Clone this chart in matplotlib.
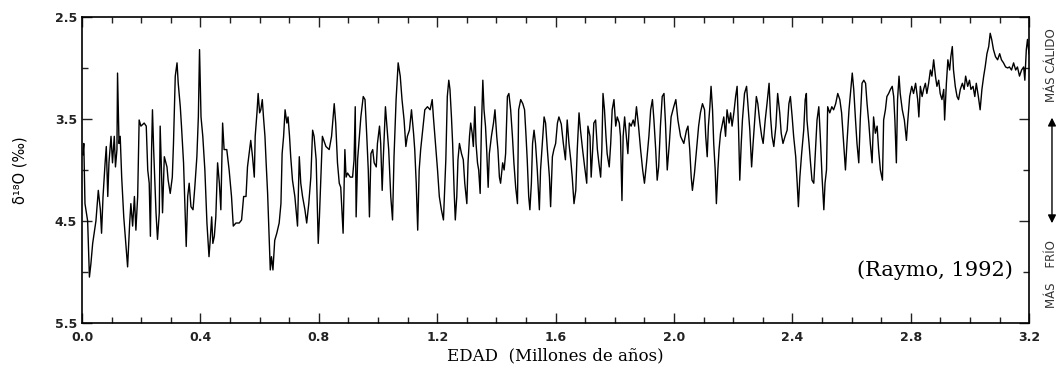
# Raymo (1992) benthic d18O record, 0 - 3.2 Ma

import matplotlib.pyplot as plt
from matplotlib.ticker import MultipleLocator

# age in Ma at the turning points of the curve
age = [0.003, 0.006, 0.010, 0.019, 0.025, 0.030, 0.036, 0.047, 0.055, 0.062,
       0.066, 0.071, 0.078, 0.082, 0.087, 0.091, 0.098, 0.103, 0.109, 0.113,
       0.118, 0.120, 0.125, 0.129, 0.134, 0.141, 0.154, 0.161, 0.165, 0.171,
       0.177, 0.182, 0.188, 0.193, 0.199, 0.210, 0.217, 0.222, 0.227, 0.231,
       0.235, 0.238, 0.242, 0.250, 0.255, 0.261, 0.264, 0.269, 0.272, 0.278,
       0.287, 0.291, 0.298, 0.305, 0.309, 0.315, 0.321, 0.325, 0.332, 0.336,
       0.343, 0.348, 0.352, 0.357, 0.362, 0.368, 0.375, 0.381, 0.388, 0.393,
       0.397, 0.402, 0.408, 0.415, 0.422, 0.429, 0.433, 0.438, 0.442, 0.447,
       0.452, 0.458, 0.464, 0.469, 0.475, 0.480, 0.489, 0.497, 0.505, 0.511,
       0.520, 0.531, 0.539, 0.546, 0.554, 0.559, 0.566, 0.570, 0.576, 0.582,
       0.585, 0.591, 0.595, 0.600, 0.604, 0.609, 0.613, 0.618, 0.622, 0.627,
       0.631, 0.636, 0.640, 0.645, 0.651, 0.658, 0.666, 0.672, 0.676, 0.681,
       0.686, 0.692, 0.696, 0.701, 0.705, 0.711, 0.719, 0.728, 0.734, 0.739,
       0.745, 0.753, 0.759, 0.766, 0.773, 0.779, 0.784, 0.791, 0.798, 0.802,
       0.812, 0.824, 0.835, 0.843, 0.852, 0.857, 0.863, 0.869, 0.874, 0.882,
       0.888, 0.892, 0.897, 0.906, 0.914, 0.919, 0.923, 0.926, 0.931, 0.936,
       0.942, 0.950, 0.956, 0.962, 0.967, 0.971, 0.976, 0.982, 0.987, 0.994,
       0.998, 1.005, 1.009, 1.014, 1.018, 1.025, 1.030, 1.036, 1.043, 1.049,
       1.054, 1.061, 1.068, 1.075, 1.081, 1.088, 1.094, 1.099, 1.106, 1.113,
       1.120, 1.124, 1.129, 1.134, 1.139, 1.144, 1.151, 1.158, 1.167, 1.176,
       1.183, 1.187, 1.195, 1.201, 1.207, 1.214, 1.221, 1.229, 1.234, 1.239,
       1.243, 1.248, 1.252, 1.257, 1.261, 1.266, 1.270, 1.275, 1.282, 1.288,
       1.293, 1.300, 1.304, 1.309, 1.313, 1.318, 1.322, 1.327, 1.331, 1.336,
       1.340, 1.345, 1.349, 1.354, 1.358, 1.363, 1.367, 1.372, 1.376, 1.383,
       1.390, 1.395, 1.401, 1.405, 1.410, 1.414, 1.421, 1.426, 1.431, 1.437,
       1.442, 1.448, 1.454, 1.459, 1.465, 1.471, 1.475, 1.482, 1.489, 1.495,
       1.500, 1.504, 1.509, 1.513, 1.518, 1.522, 1.527, 1.532, 1.538, 1.545,
       1.549, 1.555, 1.561, 1.566, 1.572, 1.579, 1.583, 1.589, 1.594, 1.600,
       1.606, 1.611, 1.619, 1.626, 1.633, 1.639, 1.645, 1.651, 1.656, 1.662,
       1.668, 1.673, 1.679, 1.684, 1.691, 1.698, 1.705, 1.709, 1.716, 1.720,
       1.725, 1.729, 1.735, 1.741, 1.746, 1.752, 1.756, 1.760, 1.765, 1.770,
       1.774, 1.781, 1.786, 1.791, 1.797, 1.803, 1.808, 1.815, 1.819, 1.824,
       1.828, 1.833, 1.839, 1.844, 1.849, 1.855, 1.862, 1.867, 1.873, 1.880,
       1.887, 1.894, 1.900, 1.907, 1.915, 1.921, 1.927, 1.932, 1.938, 1.943,
       1.948, 1.954, 1.960, 1.966, 1.971, 1.977, 1.984, 1.990, 1.999, 2.006,
       2.013, 2.022, 2.033, 2.042, 2.047, 2.053, 2.058, 2.062, 2.069, 2.076,
       2.083, 2.089, 2.096, 2.103, 2.107, 2.112, 2.116, 2.121, 2.125, 2.130,
       2.134, 2.139, 2.143, 2.148, 2.152, 2.157, 2.164, 2.168, 2.174, 2.179,
       2.186, 2.191, 2.196, 2.202, 2.208, 2.213, 2.218, 2.222, 2.227, 2.231,
       2.238, 2.245, 2.250, 2.256, 2.262, 2.267, 2.274, 2.278, 2.283, 2.290,
       2.296, 2.301, 2.308, 2.314, 2.321, 2.326, 2.331, 2.337, 2.344, 2.350,
       2.357, 2.362, 2.368, 2.375, 2.382, 2.388, 2.393, 2.399, 2.404, 2.411,
       2.416, 2.420, 2.425, 2.431, 2.438, 2.443, 2.447, 2.449, 2.456, 2.461,
       2.466, 2.472, 2.478, 2.483, 2.489, 2.494, 2.500, 2.506, 2.510, 2.515,
       2.519, 2.526, 2.533, 2.539, 2.546, 2.553, 2.560, 2.566, 2.573, 2.579,
       2.584, 2.591, 2.598, 2.602, 2.607, 2.613, 2.618, 2.624, 2.629, 2.635,
       2.641, 2.647, 2.652, 2.658, 2.663, 2.669, 2.674, 2.680, 2.686, 2.691,
       2.697, 2.704, 2.708, 2.714, 2.719, 2.725, 2.731, 2.737, 2.742, 2.746,
       2.751, 2.755, 2.760, 2.764, 2.771, 2.778, 2.785, 2.789, 2.796, 2.803,
       2.809, 2.816, 2.823, 2.827, 2.832, 2.838, 2.843, 2.849, 2.854, 2.860,
       2.866, 2.871, 2.877, 2.883, 2.888, 2.894, 2.899, 2.905, 2.911, 2.914,
       2.920, 2.925, 2.931, 2.935, 2.940, 2.944, 2.950, 2.956, 2.961, 2.967,
       2.974, 2.980, 2.985, 2.992, 2.998, 3.003, 3.010, 3.016, 3.021, 3.028,
       3.034, 3.040, 3.046, 3.051, 3.057, 3.063, 3.068, 3.073, 3.079, 3.086,
       3.093, 3.100, 3.106, 3.113, 3.120, 3.127, 3.133, 3.140, 3.147, 3.154,
       3.160, 3.167, 3.174, 3.181, 3.185, 3.190, 3.194, 3.199]

# d18O (per mil)
d18o = [3.85, 3.74, 4.33, 4.50, 5.05, 4.92, 4.72, 4.50, 4.20, 4.39,
        4.62, 4.26, 3.93, 3.77, 4.26, 3.93, 3.67, 3.93, 3.67, 3.97,
        3.80, 3.05, 3.74, 3.67, 4.07, 4.46, 4.95, 4.52, 4.33, 4.55,
        4.26, 4.59, 4.26, 3.51, 3.57, 3.54, 3.57, 4.00, 4.13, 4.65,
        3.80, 3.41, 3.80, 4.42, 4.68, 4.42, 3.57, 4.07, 4.42, 3.87,
        3.97, 4.10, 4.23, 4.07, 3.74, 3.08, 2.95, 3.15, 3.38, 3.57,
        3.93, 4.39, 4.75, 4.26, 4.13, 4.36, 4.39, 4.17, 3.87, 3.48,
        2.82, 3.48, 3.67, 4.00, 4.52, 4.85, 4.69, 4.46, 4.72, 4.65,
        4.46, 3.93, 4.13, 4.39, 3.54, 3.80, 3.80, 4.00, 4.26, 4.55,
        4.52, 4.52, 4.49, 4.26, 4.26, 3.97, 3.80, 3.71, 3.87, 4.07,
        3.67, 3.44, 3.25, 3.44, 3.41, 3.31, 3.48, 3.67, 3.93, 4.23,
        4.55, 4.98, 4.85, 4.98, 4.69, 4.62, 4.52, 4.33, 3.84, 3.67,
        3.41, 3.54, 3.48, 3.67, 3.87, 4.10, 4.26, 4.55, 3.87, 4.13,
        4.26, 4.39, 4.52, 4.33, 4.07, 3.61, 3.67, 3.90, 4.72, 4.46,
        3.67, 3.77, 3.80, 3.67, 3.35, 3.54, 3.93, 4.13, 4.17, 4.62,
        3.80, 4.07, 4.03, 4.07, 4.07, 3.90, 3.38, 4.46, 3.90, 3.71,
        3.48, 3.28, 3.31, 3.67, 4.00, 4.46, 3.84, 3.80, 3.93, 3.97,
        3.74, 3.57, 3.74, 4.20, 3.87, 3.38, 3.57, 3.80, 4.26, 4.49,
        3.87, 3.31, 2.95, 3.08, 3.31, 3.51, 3.77, 3.67, 3.61, 3.41,
        3.64, 3.80, 4.13, 4.59, 4.00, 3.80, 3.61, 3.41, 3.38, 3.41,
        3.31, 3.48, 3.77, 4.00, 4.26, 4.39, 4.49, 3.90, 3.28, 3.12,
        3.21, 3.48, 3.74, 4.20, 4.49, 4.26, 3.90, 3.74, 3.84, 3.90,
        4.13, 4.33, 3.93, 3.67, 3.54, 3.64, 3.77, 3.38, 3.74, 3.93,
        4.00, 4.23, 3.61, 3.12, 3.41, 3.57, 3.80, 4.17, 3.84, 3.67,
        3.54, 3.41, 3.67, 3.80, 4.07, 4.13, 3.93, 4.00, 3.84, 3.28,
        3.25, 3.41, 3.67, 3.93, 4.17, 4.33, 3.41, 3.31, 3.35, 3.41,
        3.67, 3.90, 4.26, 4.39, 4.13, 3.74, 3.61, 3.74, 4.00, 4.39,
        4.00, 3.74, 3.48, 3.54, 3.80, 4.07, 4.36, 3.87, 3.80, 3.74,
        3.54, 3.48, 3.55, 3.74, 3.90, 3.51, 3.74, 3.90, 4.07, 4.33,
        4.20, 3.80, 3.44, 3.61, 3.80, 3.97, 4.13, 3.57, 3.67, 4.07,
        3.80, 3.54, 3.51, 3.80, 3.93, 4.07, 3.80, 3.25, 3.41, 3.67,
        3.84, 3.97, 3.74, 3.41, 3.31, 3.57, 3.48, 3.54, 3.67, 4.30,
        3.67, 3.48, 3.67, 3.84, 3.54, 3.57, 3.51, 3.57, 3.38, 3.57,
        3.80, 4.00, 4.13, 3.93, 3.67, 3.41, 3.31, 3.51, 3.80, 4.10,
        3.97, 3.57, 3.28, 3.25, 3.54, 4.00, 3.74, 3.48, 3.38, 3.31,
        3.51, 3.67, 3.74, 3.61, 3.57, 3.80, 4.07, 4.20, 4.03, 3.80,
        3.57, 3.44, 3.35, 3.41, 3.67, 3.87, 3.57, 3.38, 3.18, 3.41,
        3.74, 4.00, 4.33, 4.00, 3.80, 3.64, 3.54, 3.48, 3.67, 3.41,
        3.54, 3.44, 3.57, 3.44, 3.28, 3.18, 3.61, 4.10, 3.74, 3.51,
        3.25, 3.18, 3.38, 3.61, 3.97, 3.74, 3.44, 3.28, 3.35, 3.54,
        3.67, 3.74, 3.51, 3.35, 3.15, 3.48, 3.67, 3.77, 3.57, 3.25,
        3.44, 3.64, 3.74, 3.67, 3.61, 3.35, 3.28, 3.48, 3.67, 3.87,
        4.13, 4.36, 4.07, 3.84, 3.61, 3.31, 3.25, 3.51, 3.74, 3.93,
        4.10, 4.13, 3.80, 3.51, 3.38, 3.67, 4.07, 4.39, 4.13, 4.00,
        3.38, 3.44, 3.38, 3.41, 3.35, 3.25, 3.31, 3.44, 3.74, 4.00,
        3.74, 3.41, 3.18, 3.05, 3.21, 3.51, 3.74, 3.93, 3.51, 3.15,
        3.12, 3.15, 3.35, 3.54, 3.74, 3.93, 3.48, 3.64, 3.57, 3.80,
        4.00, 4.10, 3.51, 3.41, 3.28, 3.25, 3.21, 3.18, 3.28, 3.51,
        3.93, 3.31, 3.08, 3.25, 3.41, 3.51, 3.71, 3.54, 3.28, 3.18,
        3.25, 3.15, 3.31, 3.48, 3.18, 3.28, 3.21, 3.15, 3.25, 3.15,
        3.02, 3.08, 2.92, 3.08, 3.18, 3.12, 3.25, 3.31, 3.21, 3.51,
        3.15, 2.92, 3.02, 2.89, 2.79, 3.02, 3.18, 3.28, 3.31, 3.21,
        3.15, 3.21, 3.08, 3.18, 3.12, 3.21, 3.18, 3.28, 3.15, 3.28,
        3.41, 3.21, 3.08, 2.99, 2.86, 2.79, 2.66, 2.72, 2.82, 2.89,
        2.92, 2.86, 2.92, 2.95, 2.99, 3.00, 2.99, 3.02, 2.95, 3.02,
        2.99, 3.08, 3.02, 2.99, 3.12, 2.82, 2.72, 2.86]

xticks = [0.0, 0.4, 0.8, 1.2, 1.6, 2.0, 2.4, 2.8, 3.2]
xtick_labels = ["0.0", "0.4", "0.8", "1.2", "1.6", "2.0", "2.4", "2.8", "3.2"]
yticks = [2.5, 3.5, 4.5, 5.5]

fig = plt.figure(figsize=(10.61, 3.83), dpi=100)
ax = fig.add_axes([0.0773, 0.1567, 0.8928, 0.799])

# the record itself
ax.plot(age, d18o, color="black", linewidth=1.0)

# axes: heavier values down, so the axis is inverted
ax.set_xlim(0.0, 3.2)
ax.set_ylim(5.5, 2.5)
ax.set_xticks(xticks)
ax.set_xticklabels(xtick_labels)
ax.set_yticks(yticks)
ax.xaxis.set_minor_locator(MultipleLocator(0.1))
ax.yaxis.set_minor_locator(MultipleLocator(0.5))
ax.tick_params(which="both", direction="in", top=True, right=True,
               labelsize=9, colors="#222222", width=1.0)
ax.tick_params(which="major", length=7)
ax.tick_params(which="minor", length=4)
for lab in ax.get_xticklabels() + ax.get_yticklabels():
    lab.set_fontweight("bold")
ax.tick_params(axis="x", pad=6)
for s in ax.spines.values():
    s.set_linewidth(1.2)

# label the axes
ax.set_xlabel("EDAD  (Millones de años)", family="DejaVu Serif",
              fontsize=12, labelpad=2)
ax.set_ylabel("δ¹⁸O (‰)", fontsize=10.5, labelpad=20)

# source
ax.text(0.90, 0.173, "(Raymo, 1992)", transform=ax.transAxes,
        family="DejaVu Serif", fontsize=15, ha="center", va="center")

# warmer / colder arrow on the right
fig.text(0.9915, 0.83, "MÁS CÁLIDO", rotation=90, fontsize=8.5,
         ha="center", va="center", color="#333333")
fig.text(0.9915, 0.285, "MÁS    FRÍO", rotation=90, fontsize=8.5,
         ha="center", va="center", color="#333333")
fig.add_artist(plt.matplotlib.patches.FancyArrowPatch(
    (0.9915, 0.41), (0.9915, 0.70), transform=fig.transFigure,
    arrowstyle="<|-|>", mutation_scale=12, color="black", linewidth=1.0))

fig.savefig("out.png", dpi=100)
